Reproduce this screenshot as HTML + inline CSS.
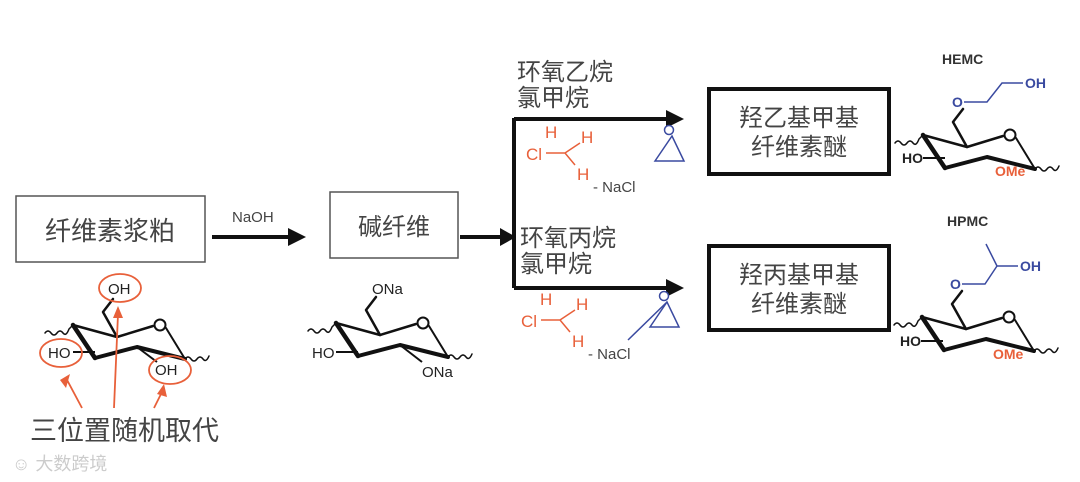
<!DOCTYPE html>
<html><head><meta charset="utf-8"><style>
html,body{margin:0;padding:0;background:#fff}
svg{display:block}
.cn{font-family:"Liberation Sans","Noto Sans CJK SC",sans-serif;fill:#444}
.lt{font-family:"Liberation Sans",sans-serif;font-weight:bold}
</style></head><body>
<svg width="1080" height="482" viewBox="0 0 1080 482" xmlns="http://www.w3.org/2000/svg">
<defs>
<g id="ring" fill="none" stroke="#111" stroke-linejoin="round" stroke-linecap="round">
  <path d="M-28,8 q3,-4 6,0 t6,0 t6,0 t6,-4 L0,0" stroke-width="1.5"/>
  <path d="M0,0 L44,12 L80,1" stroke-width="2.5"/>
  <path d="M0,0 L22,33" stroke-width="4.5"/>
  <path d="M22,33 L64,22 L112,34" stroke-width="4"/>
  <path d="M93,3 L112,34" stroke-width="2"/>
  <circle cx="87" cy="0" r="5.5" stroke-width="2" fill="#fff"/>
  <path d="M112,34 q3,-4 6,0 t6,0 t6,0 t6,-3" stroke-width="1.5"/>
  <path d="M44,12 L30,-13 L40,-26" stroke-width="2.5"/>
</g>
</defs>

<rect x="16" y="196" width="189" height="66" fill="none" stroke="#555" stroke-width="1.5"/>
<text x="110" y="240" class="cn" font-size="26" text-anchor="middle">纤维素浆粕</text>
<rect x="330" y="192" width="128" height="66" fill="none" stroke="#555" stroke-width="1.5"/>
<text x="394" y="235" class="cn" font-size="24" text-anchor="middle">碱纤维</text>
<rect x="709" y="89" width="180" height="85" fill="none" stroke="#111" stroke-width="4"/>
<text x="799" y="126" class="cn" font-size="24" text-anchor="middle">羟乙基甲基</text>
<text x="799" y="155" class="cn" font-size="24" text-anchor="middle">纤维素醚</text>
<rect x="709" y="246" width="180" height="84" fill="none" stroke="#111" stroke-width="4"/>
<text x="799" y="283" class="cn" font-size="24" text-anchor="middle">羟丙基甲基</text>
<text x="799" y="312" class="cn" font-size="24" text-anchor="middle">纤维素醚</text>

<g stroke="#111" stroke-width="4" fill="none">
<path d="M212,237 H290"/>
<path d="M460,237 H505"/>
<path d="M514,118 V288"/>
<path d="M514,119 H670"/>
<path d="M514,288 H670"/>
</g>
<g fill="#111">
<path d="M288,228 L306,237 L288,246Z"/>
<path d="M500,228 L516,237 L500,246Z"/>
<path d="M666,110 L684,119 L666,128Z"/>
<path d="M666,279 L684,288 L666,297Z"/>
</g>
<text x="232" y="222" class="cn" font-size="15">NaOH</text>

<text x="517" y="80" class="cn" font-size="24">环氧乙烷</text>
<text x="517" y="106" class="cn" font-size="24">氯甲烷</text>
<text x="520" y="246" class="cn" font-size="24">环氧丙烷</text>
<text x="520" y="272" class="cn" font-size="24">氯甲烷</text>

<g fill="#e8603a" stroke="#e8603a" font-family="Liberation Sans,sans-serif" font-size="17">
<text x="526" y="160" stroke="none">Cl</text>
<path d="M546,153 H565 L580,143 M565,153 L575,165" stroke-width="1.5" fill="none"/>
<text x="545" y="138" stroke="none">H</text>
<text x="581" y="143" stroke="none">H</text>
<text x="577" y="180" stroke="none">H</text>
<text x="521" y="327" stroke="none">Cl</text>
<path d="M541,320 H560 L575,310 M560,320 L570,332" stroke-width="1.5" fill="none"/>
<text x="540" y="305" stroke="none">H</text>
<text x="576" y="310" stroke="none">H</text>
<text x="572" y="347" stroke="none">H</text>
</g>
<text x="593" y="192" class="cn" font-size="15" fill="#222">- NaCl</text>
<text x="588" y="359" class="cn" font-size="15" fill="#222">- NaCl</text>
<g stroke="#3a4aa0" stroke-width="1.5" fill="none">
<path d="M655,161 L672,136 L684,161Z"/><circle cx="669" cy="130" r="4.5" fill="#fff"/>
<path d="M650,327 L667,302 L679,327Z"/><circle cx="664" cy="296" r="4.5" fill="#fff"/>
<path d="M667,302 L628,340"/>
</g>

<use href="#ring" x="73" y="325"/>
<g font-family="Liberation Sans,sans-serif" font-size="15" fill="#222">
<text x="108" y="294">OH</text>
<text x="48" y="358">HO</text>
<text x="155" y="375">OH</text>
</g>
<path d="M73,352 H95 M137,347 L157,362" stroke="#111" stroke-width="2" fill="none"/>
<g stroke="#e8603a" stroke-width="1.8" fill="none">
<ellipse cx="120" cy="288" rx="21" ry="14"/>
<ellipse cx="61" cy="353" rx="21" ry="14"/>
<ellipse cx="170" cy="370" rx="21" ry="14"/>
<path d="M82,408 L66,378 M114,408 L118,314 M154,408 L162,392"/>
</g>
<g fill="#e8603a">
<path d="M60,380 L70,374 L66,388Z"/><path d="M113,318 L118,306 L123,318Z"/><path d="M157,394 L164,384 L167,397Z"/>
</g>
<text x="30" y="440" class="cn" font-size="27">三位置随机取代</text>
<text x="12" y="470" font-family="Liberation Sans,Noto Sans CJK SC,sans-serif" font-size="18" fill="#ccc">☺ 大数跨境</text>

<use href="#ring" x="336" y="323"/>
<g font-family="Liberation Sans,sans-serif" font-size="15" fill="#222">
<text x="372" y="294">ONa</text>
<text x="312" y="358">HO</text>
<text x="422" y="377">ONa</text>
</g>
<path d="M336,352 H358 M400,345 L422,362" stroke="#111" stroke-width="2" fill="none"/>

<text x="942" y="64" class="lt" font-size="14" fill="#333">HEMC</text>
<use href="#ring" x="923" y="135"/>
<g font-family="Liberation Sans,sans-serif" font-size="14" fill="#3a4aa0" font-weight="bold">
<text x="952" y="107">O</text><text x="1025" y="88">OH</text></g>
<path d="M964,102 H987 L1002,83 H1023" stroke="#3a4aa0" stroke-width="1.5" fill="none"/>
<text x="902" y="163" font-family="Liberation Sans,sans-serif" font-size="14" font-weight="bold" fill="#222">HO</text>
<text x="995" y="176" font-family="Liberation Sans,sans-serif" font-size="14" font-weight="bold" fill="#e8603a">OMe</text>
<path d="M923,158 H945" stroke="#111" stroke-width="2"/>

<text x="947" y="226" class="lt" font-size="14" fill="#333">HPMC</text>
<use href="#ring" x="922" y="317"/>
<g font-family="Liberation Sans,sans-serif" font-size="14" fill="#3a4aa0" font-weight="bold">
<text x="950" y="289">O</text><text x="1020" y="271">OH</text></g>
<path d="M962,284 H985 L997,266 L986,244 M997,266 H1018" stroke="#3a4aa0" stroke-width="1.5" fill="none"/>
<text x="900" y="346" font-family="Liberation Sans,sans-serif" font-size="14" font-weight="bold" fill="#222">HO</text>
<text x="993" y="359" font-family="Liberation Sans,sans-serif" font-size="14" font-weight="bold" fill="#e8603a">OMe</text>
<path d="M921,341 H943" stroke="#111" stroke-width="2"/>
</svg>
</body></html>
